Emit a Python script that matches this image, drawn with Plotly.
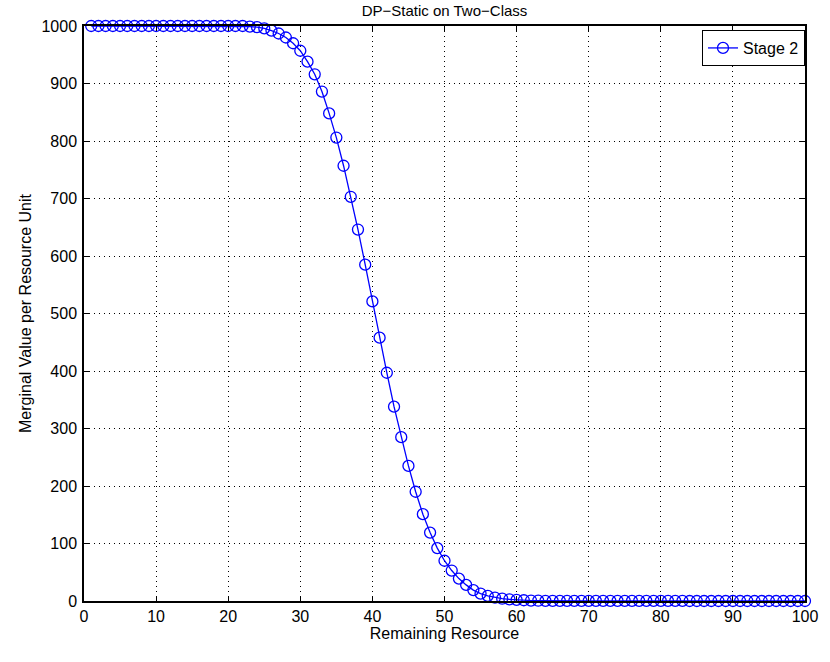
import plotly.graph_objects as go

x_vals = list(range(1, 101))
y_head = [1000] * 22
y_mid = [999, 998, 996, 992, 987, 980, 970, 957, 938, 916, 886, 848, 806, 757,
         703, 646, 585, 521, 458, 397, 338, 285, 235, 190, 151, 119, 92, 70,
         53, 39, 28, 19, 13, 9, 6, 4, 3, 2, 1.3, 0.8, 0.5]
y_tail = [0.3] * 10 + [0.1] * 10 + [0] * 17
y_vals = y_head + y_mid + y_tail

title_text = "DP\u2212Static on Two\u2212Class"
x_label = "Remaining Resource"
y_label = "Merginal Value per Resource Unit"
series_name = "Stage 2"

fig = go.Figure()
fig.add_trace(go.Scatter(
    x=x_vals, y=y_vals, mode="lines+markers", name=series_name,
    line=dict(color="#0000ff", width=1.3),
    marker=dict(symbol="circle-open", size=11, color="#0000ff",
                line=dict(width=1.3, color="#0000ff")),
    cliponaxis=False,
))

font_family = "Liberation Sans, Arial, Helvetica, sans-serif"
axis_common = dict(
    showline=True, linecolor="black", linewidth=1.5, mirror="ticks",
    ticks="inside", ticklen=5, tickcolor="black", tickwidth=1,
    showgrid=True, gridcolor="black", gridwidth=1, griddash="1px,4px",
    zeroline=False, tickfont=dict(size=16, color="black", family=font_family),
)
fig.update_xaxes(range=[0, 100], dtick=10, tick0=0, ticklabelstandoff=0,
                 title=dict(text=x_label, font=dict(size=16, color="black", family=font_family), standoff=2),
                 **axis_common)
fig.update_yaxes(range=[0, 1000], dtick=100, tick0=0, ticklabelstandoff=2,
                 title=dict(text=y_label, font=dict(size=16, color="black", family=font_family), standoff=6),
                 **axis_common)

fig.update_layout(
    width=830, height=662,
    margin=dict(l=84, r=14, t=26, b=61),
    paper_bgcolor="white", plot_bgcolor="white",
    title=dict(text=title_text, x=0.5, xref="paper", y=0.992, yanchor="top",
               font=dict(size=15, color="black", family=font_family)),
    font=dict(family=font_family, color="black"),
    legend=dict(x=1.0, y=0.993, xanchor="right", yanchor="top",
                bordercolor="black", borderwidth=1, bgcolor="white",
                font=dict(size=16, color="black", family=font_family),
                itemwidth=30, tracegroupgap=0),
    showlegend=True,
)

fig.write_html("out.html")
